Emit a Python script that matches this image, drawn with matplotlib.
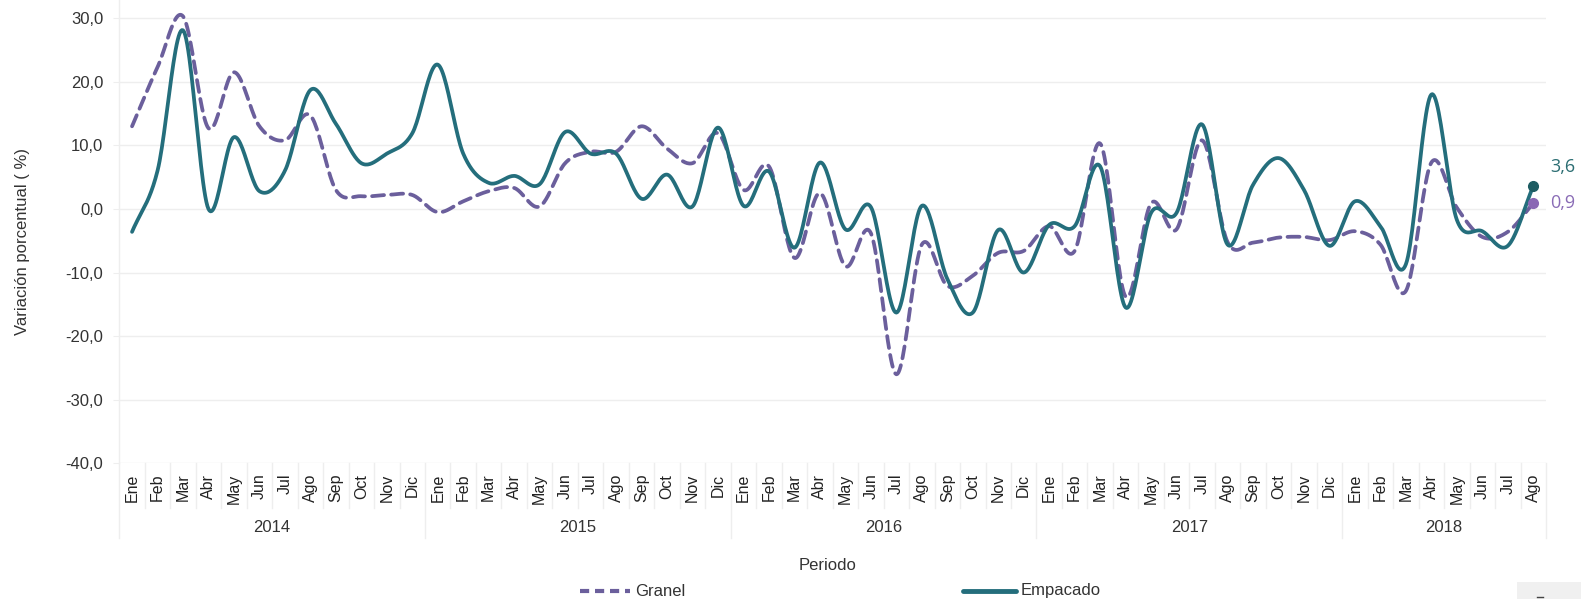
import numpy as np
import matplotlib
matplotlib.use("Agg")
import matplotlib.pyplot as plt
from matplotlib.lines import Line2D
from matplotlib.patches import Rectangle
import matplotlib.transforms as mtrans

# ---------------- data ----------------
years = ["2014", "2015", "2016", "2017", "2018"]
months = ["Ene", "Feb", "Mar", "Abr", "May", "Jun", "Jul", "Ago", "Sep", "Oct", "Nov", "Dic"]
month_labels = months * 4 + months[:8]

granel = [13.0, 22.3, 30.3, 12.7, 21.5, 13.0, 10.8, 14.7, 3.0, 2.0, 2.2, 2.2,
          -0.5, 1.2, 2.8, 3.3, 0.4, 7.2, 9.0, 9.0, 13.0, 9.5, 7.2, 11.9,
          3.0, 6.7, -7.7, 2.5, -9.0, -3.8, -26.0, -5.6, -12.1, -10.5, -6.9, -6.6,
          -2.7, -6.6, 10.3, -13.8, 0.9, -3.2, 10.8, -5.2, -5.3, -4.5, -4.4, -4.9,
          -3.5, -5.6, -12.9, 7.3, 0.2, -4.4, -3.6, 0.9]
empacado = [-3.6, 6.0, 28.1, 0.0, 11.3, 2.8, 6.0, 18.7, 13.4, 7.2, 8.7, 11.9,
            22.7, 8.7, 4.1, 5.2, 3.9, 12.1, 8.7, 8.7, 1.6, 5.4, 0.4, 12.8,
            0.5, 5.9, -6.1, 7.3, -3.2, 0.3, -16.3, 0.5, -11.0, -16.3, -3.3, -10.0,
            -2.5, -2.7, 6.7, -15.5, -0.6, -0.6, 13.3, -5.6, 3.8, 8.0, 3.0, -5.8,
            1.2, -2.7, -8.7, 18.0, -1.7, -3.5, -5.8, 3.6]
yticks = [-40, -30, -20, -10, 0, 10, 20, 30]

C_GRANEL = "#6b5f9c"
C_EMP = "#246e7c"
C_GRID = "#eeeeee"


def catmull_rom(y, n=24):
    y = np.asarray(y, float)
    x = np.arange(len(y), dtype=float)
    p = np.concatenate([[2 * y[0] - y[1]], y, [2 * y[-1] - y[-2]]])
    xs, ys = [], []
    t = np.linspace(0, 1, n, endpoint=False)
    for i in range(len(y) - 1):
        p0, p1, p2, p3 = p[i], p[i + 1], p[i + 2], p[i + 3]
        yy = 0.5 * ((2 * p1) + (-p0 + p2) * t + (2 * p0 - 5 * p1 + 4 * p2 - p3) * t ** 2
                    + (-p0 + 3 * p1 - 3 * p2 + p3) * t ** 3)
        xs.append(x[i] + t)
        ys.append(yy)
    xs.append([x[-1]])
    ys.append([y[-1]])
    return np.concatenate(xs), np.concatenate(ys)


W, H = 1581, 599
fig = plt.figure(figsize=(W / 100, H / 100), dpi=100)
plt.rcParams['font.family'] = ['Liberation Sans', 'DejaVu Sans']

ax_left, ax_right, ax_bottom_px, ax_top_px = 119.3, 1546, 463.3, 0
ax = fig.add_axes([ax_left / W, 1 - ax_bottom_px / H, (ax_right - ax_left) / W,
                   (ax_bottom_px - ax_top_px) / H])
unit = (463.3 - 18.2) / 70.0
ax.set_ylim(-40, 30 + 18.2 / unit)
n = len(granel)
ax.set_xlim(-0.5, n - 0.5)

for s in ["top", "right", "bottom"]:
    ax.spines[s].set_visible(False)
ax.spines["left"].set_color(C_GRID)
ax.spines["left"].set_linewidth(1.0)

ax.set_yticks(yticks)
ax.set_yticklabels([f"{v:.1f}".replace(".", ",") for v in yticks], fontsize=12, color="#333333")
ax.tick_params(axis="y", length=4.5, color=C_GRID, pad=7)
ax.grid(axis="y", color=C_GRID, linewidth=1.0)
ax.set_axisbelow(True)

ax.set_xticks(range(n))
ax.set_xticklabels(month_labels, rotation=90, fontsize=11.5, color="#222222", va="top")
ax.tick_params(axis="x", length=0, pad=7.5)

# separators below axis
px = 1.0 / (ax_bottom_px - ax_top_px)
trans = mtrans.blended_transform_factory(ax.transData, ax.transAxes)
for k in range(n + 1):
    is_year = (k % 12 == 0) or k == n
    y1 = -75 * px if is_year else -45 * px
    ax.add_line(Line2D([k - 0.5, k - 0.5], [0, y1], transform=trans, color=C_GRID,
                       linewidth=1.0, clip_on=False))
for i, yr in enumerate(years):
    start = i * 12
    end = min(start + 12, n)
    ax.text((start + end - 1) / 2, -64.4 * px, yr, transform=trans, ha="center",
            va="center", fontsize=12, color="#333333")

# lines
xg, yg = catmull_rom(granel)
xe, ye = catmull_rom(empacado)
ax.plot(xg, yg, color=C_GRANEL, linewidth=2.7, linestyle=(0, (3.2, 1.9)),
        dash_capstyle="round", clip_on=False)
ax.plot(xe, ye, color=C_EMP, linewidth=2.7, solid_capstyle="round", clip_on=False)

ax.plot([n - 1], [granel[-1]], "o", color="#8a67b4", markersize=7, clip_on=False, zorder=5)
ax.plot([n - 1], [empacado[-1]], "o", color="#1d5c62", markersize=7, clip_on=False, zorder=5)

ax.annotate(f"{empacado[-1]:.1f}".replace(".", ","), (n - 1, empacado[-1]),
            xytext=(12, 14), textcoords="offset points", color="#2c6e73",
            fontsize=13, family=["Open Sans", "DejaVu Sans"], va="center", annotation_clip=False)
ax.annotate(f"{granel[-1]:.1f}".replace(".", ","), (n - 1, granel[-1]),
            xytext=(12, 0), textcoords="offset points", color="#8a6cb6",
            fontsize=13, family=["Open Sans", "DejaVu Sans"], va="center", annotation_clip=False)

# axis titles
fig.text(23 / W, 1 - 242 / H, "Variación porcentual ( %)", rotation=90, ha="center",
         va="center", fontsize=12, color="#333333")
fig.text(828 / W, 1 - 566 / H, "Periodo", ha="center", va="center", fontsize=12,
         color="#333333")

# legend
ly = 1 - 591 / H
fig.add_artist(Line2D([580 / W, 630 / W], [ly, ly], color=C_GRANEL, linewidth=3,
                      linestyle=(0, (2.2, 1.4)), transform=fig.transFigure))
fig.text(635 / W, ly, "Granel", ha="left", va="center", fontsize=12, color="#333333")
fig.add_artist(Line2D([963 / W, 1016 / W], [ly, ly], color=C_EMP, linewidth=3.5,
                      solid_capstyle="round", transform=fig.transFigure))
fig.text(1021 / W, ly, "Empacado", ha="left", va="center", fontsize=12, color="#333333")

# bottom-right box
fig.add_artist(Rectangle((1517 / W, 0), 64 / W, 17 / H, transform=fig.transFigure,
                         facecolor="#f0f0f0", edgecolor="none"))
fig.add_artist(Line2D([1537 / W, 1543 / W], [2 / H, 2 / H], color="#444444",
                      linewidth=1, transform=fig.transFigure))

fig.savefig("out.png", dpi=100)
